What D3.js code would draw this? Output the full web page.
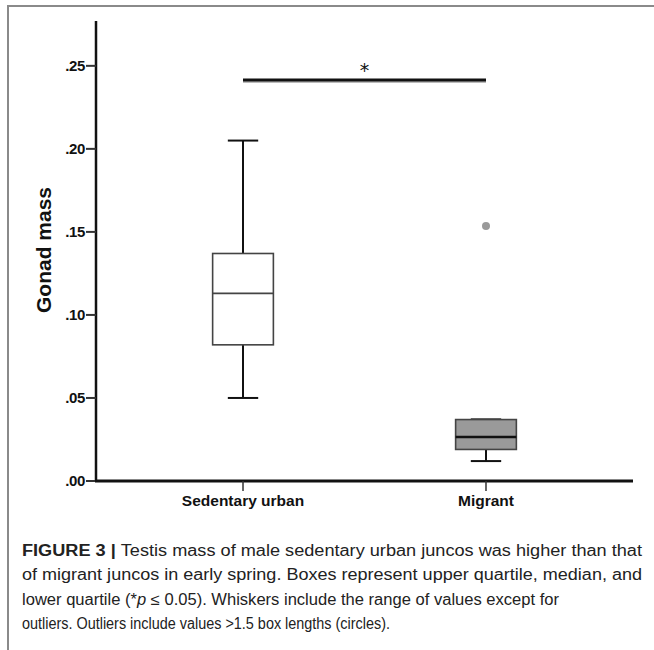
<!DOCTYPE html>
<html><head><meta charset="utf-8">
<script src="https://cdn.jsdelivr.net/npm/d3@7/dist/d3.min.js"></script>
<style>body{margin:0;background:#fff}svg{display:block}</style>
</head><body><svg id="c" width="654" height="650"></svg>
<script>
const categories = ["Sedentary urban", "Migrant"];
const whiskerLow  = [0.050, 0.012];
const q1          = [0.082, 0.019];
const median      = [0.113, 0.0265];
const q3          = [0.137, 0.037];
const whiskerHigh = [0.205, 0.0371];
const outliers    = [[], [0.1535]];
const boxFill     = ["#ffffff", "#9a9a9a"];
const yTicks      = [0, 0.05, 0.10, 0.15, 0.20, 0.25];
const sigLabel    = "*";
const yTitle      = "Gonad mass";
const captionLines = [
  [["FIGURE 3 | ", true], ["Testis mass of male sedentary urban juncos was higher than that", false]],
  [["of migrant juncos in early spring. Boxes represent upper quartile, median, and", false]],
  [["lower quartile (*", false], ["p", false, true], [" \u2264 0.05). Whiskers include the range of values except for", false]],
  [["outliers. Outliers include values >1.5 box lengths (circles).", false]]
];
const captionWidths = [620, 620, 537, 368];

const svg = d3.select("#c");
const F = "'Liberation Sans', Arial, Helvetica, sans-serif";

// frame
svg.append("rect").attr("x", 8).attr("y", 6).attr("width", 660).attr("height", 660)
  .attr("fill", "none").attr("stroke", "#8a8a8a").attr("stroke-width", 2);

const y = d3.scaleLinear().domain([0, 0.277]).range([481, 21]);
const x = d3.scalePoint().domain(categories).range([96, 633]).padding(0.605);
const step = x.step();
const bw = step * 0.25, cw = step * 0.125;

// boxes
categories.forEach((c, i) => {
  const cx = x(c);
  const g = svg.append("g");
  g.append("line").attr("x1", cx).attr("x2", cx).attr("y1", y(whiskerHigh[i])).attr("y2", y(q3[i]))
    .attr("stroke", "#111").attr("stroke-width", 2);
  g.append("line").attr("x1", cx).attr("x2", cx).attr("y1", y(q1[i])).attr("y2", y(whiskerLow[i]))
    .attr("stroke", "#111").attr("stroke-width", 2);
  [whiskerHigh[i], whiskerLow[i]].forEach(v => {
    g.append("line").attr("x1", cx - cw / 2).attr("x2", cx + cw / 2).attr("y1", y(v)).attr("y2", y(v))
      .attr("stroke", "#111").attr("stroke-width", 2);
  });
  g.append("rect").attr("x", cx - bw / 2).attr("width", bw)
    .attr("y", y(q3[i])).attr("height", y(q1[i]) - y(q3[i]))
    .attr("fill", boxFill[i]).attr("stroke", "#444").attr("stroke-width", 1.6);
  g.append("line").attr("x1", cx - bw / 2).attr("x2", cx + bw / 2).attr("y1", y(median[i])).attr("y2", y(median[i]))
    .attr("stroke", i === 0 ? "#444" : "#111").attr("stroke-width", i === 0 ? 1.6 : 2.6);
  outliers[i].forEach(v => {
    g.append("circle").attr("cx", cx).attr("cy", y(v)).attr("r", 4).attr("fill", "#9a9a9a");
  });
});

// y axis
svg.append("line").attr("x1", 96).attr("x2", 96).attr("y1", y(0.277)).attr("y2", y(0) + 1)
  .attr("stroke", "#111").attr("stroke-width", 2.5);
const yt = svg.append("g");
yTicks.forEach(t => {
  yt.append("line").attr("x1", 86).attr("x2", 96).attr("y1", y(t)).attr("y2", y(t))
    .attr("stroke", "#333").attr("stroke-width", 2);
  yt.append("text").attr("x", 85).attr("y", y(t)).attr("dy", "0.36em").attr("text-anchor", "end")
    .attr("font-family", F).attr("font-weight", "bold").attr("font-size", 15).attr("fill", "#111")
    .attr("letter-spacing", -0.4)
    .text(d3.format(".2f")(t).replace(/^0/, ""));
});

// x axis
svg.append("line").attr("x1", 95).attr("x2", 633).attr("y1", y(0)).attr("y2", y(0))
  .attr("stroke", "#111").attr("stroke-width", 3);
categories.forEach(c => {
  svg.append("line").attr("x1", x(c)).attr("x2", x(c)).attr("y1", y(0)).attr("y2", y(0) + 10)
    .attr("stroke", "#333").attr("stroke-width", 1.5);
  svg.append("text").attr("x", x(c)).attr("y", 506).attr("text-anchor", "middle")
    .attr("font-family", F).attr("font-weight", "bold").attr("font-size", 15.5).attr("fill", "#111")
    .text(c);
});

// y title
svg.append("text").attr("transform", "translate(51,250) rotate(-90)").attr("text-anchor", "middle")
  .attr("font-family", F).attr("font-weight", "bold").attr("font-size", 21).attr("fill", "#111")
  .text(yTitle);

// significance bar
const sx1 = x(categories[0]), sx2 = x(categories[1]);
svg.append("line").attr("x1", sx1).attr("x2", sx2).attr("y1", 82).attr("y2", 82)
  .attr("stroke", "#bbb").attr("stroke-width", 2);
svg.append("line").attr("x1", sx1).attr("x2", sx2).attr("y1", 80).attr("y2", 80)
  .attr("stroke", "#111").attr("stroke-width", 3);
svg.append("text").attr("x", (sx1 + sx2) / 2).attr("y", 77).attr("text-anchor", "middle")
  .attr("font-family", "'DejaVu Sans', sans-serif").attr("font-size", 19).attr("fill", "#111")
  .text(sigLabel);

// caption
const baselines = [556, 580, 605, 629];
captionLines.forEach((ln, i) => {
  const t = svg.append("text").attr("x", 22).attr("y", baselines[i])
    .attr("font-family", F).attr("font-size", 16).attr("fill", "#222");
  ln.forEach(([s, b, it]) => {
    const ts = t.append("tspan").text(s);
    if (b) ts.attr("font-weight", "bold");
    if (it) ts.attr("font-style", "italic");
  });
  t.attr("textLength", captionWidths[i]).attr("lengthAdjust", "spacingAndGlyphs");
});
</script></body></html>
